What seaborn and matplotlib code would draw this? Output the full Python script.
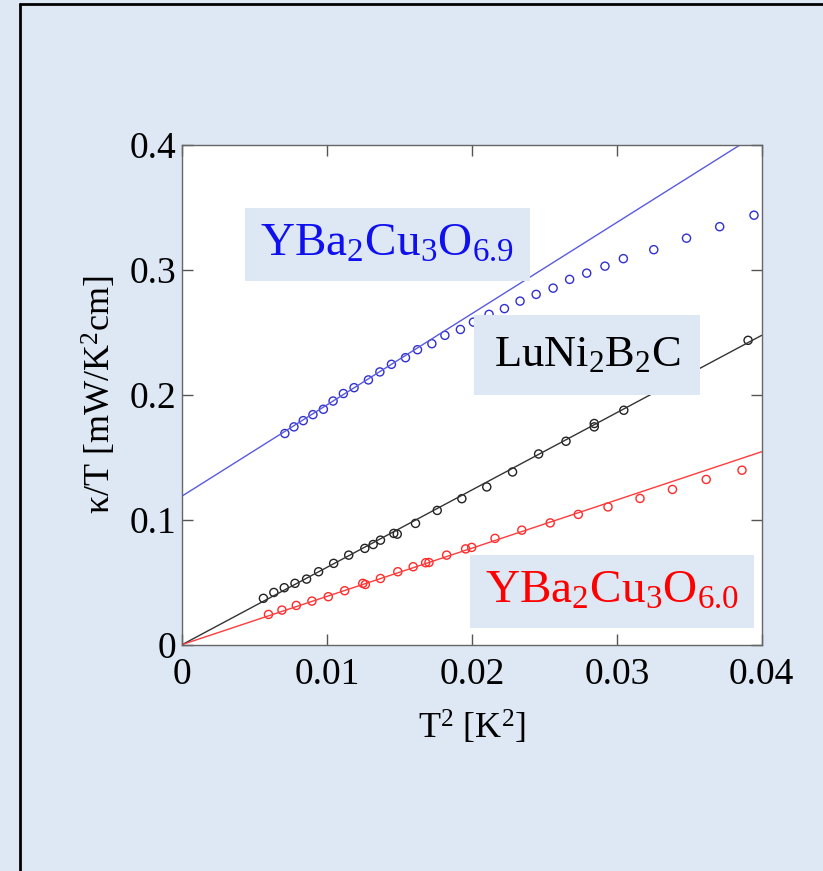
import seaborn as sns
import matplotlib.pyplot as plt
import numpy as np
import pandas as pd
from matplotlib.lines import Line2D

sns.set_theme(style='ticks')
plt.rcParams['font.family'] = ['Liberation Serif', 'DejaVu Serif']
plt.rcParams['mathtext.fontset'] = 'custom'
plt.rcParams['mathtext.rm'] = 'Liberation Serif'
plt.rcParams['mathtext.it'] = 'Liberation Serif:italic'
plt.rcParams['text.color'] = 'black'
plt.rcParams['axes.labelcolor'] = 'black'
plt.rcParams['xtick.labelcolor'] = 'black'
plt.rcParams['ytick.labelcolor'] = 'black'

BG = '#dde8f4'

# YBa2Cu3O6.9 (blue)
t2_y69 = [0.00708, 0.00771, 0.00835, 0.00902, 0.00974, 0.01041, 0.01112, 0.01186,
          0.01285, 0.01364, 0.01444, 0.01541, 0.01624, 0.01723, 0.01813, 0.01920,
          0.02010, 0.02118, 0.02224, 0.02332, 0.02443, 0.02560, 0.02674, 0.02792,
          0.02918, 0.03045, 0.03255, 0.03481, 0.03710, 0.03947]
k_y69 = [0.169, 0.1743, 0.1793, 0.1841, 0.1884, 0.195, 0.201, 0.2057,
         0.2119, 0.2183, 0.2244, 0.2297, 0.2361, 0.2409, 0.2476, 0.2523,
         0.2582, 0.2644, 0.269, 0.275, 0.2804, 0.2854, 0.2924, 0.2974,
         0.303, 0.309, 0.3162, 0.3254, 0.3346, 0.3438]

# LuNi2B2C (black)
t2_lu = [0.0056, 0.00632, 0.00704, 0.00778, 0.00858, 0.00941, 0.01045, 0.01149,
         0.0126, 0.01318, 0.01368, 0.0146, 0.01484, 0.0161, 0.0176, 0.0193,
         0.02102, 0.0228, 0.0246, 0.02649, 0.02844, 0.02844, 0.03048, 0.03906]
k_lu = [0.037, 0.0417, 0.0455, 0.049, 0.0524, 0.0583, 0.065, 0.0716,
        0.077, 0.0801, 0.0836, 0.089, 0.0884, 0.097, 0.1074, 0.1168,
        0.1262, 0.1382, 0.1526, 0.1628, 0.177, 0.1743, 0.1876, 0.2436]

# YBa2Cu3O6.0 (red)
t2_y60 = [0.00595, 0.00688, 0.00787, 0.00895, 0.01008, 0.01121, 0.01246, 0.01264,
          0.01368, 0.01488, 0.01594, 0.0168, 0.01703, 0.01825, 0.01956, 0.01998,
          0.02159, 0.02344, 0.0254, 0.02734, 0.02939, 0.0316, 0.03384, 0.03617, 0.03864]
k_y60 = [0.0241, 0.0276, 0.0313, 0.0348, 0.0383, 0.0431, 0.049, 0.0481,
         0.0529, 0.0583, 0.0623, 0.0655, 0.0657, 0.0716, 0.0766, 0.0778,
         0.085, 0.0916, 0.0974, 0.1042, 0.1102, 0.117, 0.1242, 0.1322, 0.1396]

# linear fits: intercept, slope
fit_a = [0.119, 0.0, 0.0]
fit_b = [7.3, 6.19, 3.86]
fit_x = [0.0, 0.04]

fig = plt.figure(figsize=(8.23, 8.71), dpi=100, facecolor=BG)
ax = fig.add_axes([0.2215, 0.260, 0.704, 0.5735])
ax.set_facecolor('white')

line_cols = ['#5a5ae0', '#333333', '#ff3b3b']
mark_cols = ['#3030d0', '#222222', '#ff2a2a']
sets = [(t2_y69, k_y69), (t2_lu, k_lu), (t2_y60, k_y60)]

for i in range(3):
    fx = np.array(fit_x)
    fdf = pd.DataFrame({'x': fx, 'y': fit_a[i] + fit_b[i] * fx})
    sns.lineplot(data=fdf, x='x', y='y', ax=ax, color=line_cols[i], lw=1.0)
    df = pd.DataFrame({'x': sets[i][0], 'y': sets[i][1]})
    sns.scatterplot(data=df, x='x', y='y', ax=ax, s=34, marker='o',
                    facecolor='none', edgecolor=mark_cols[i], linewidth=1.0)

ax.set_xlim(0, 0.04)
ax.set_ylim(0, 0.4)
ax.set_xticks([0, 0.01, 0.02, 0.03, 0.04])
ax.set_xticklabels(['0', '0.01', '0.02', '0.03', '0.04'])
ax.set_yticks([0, 0.1, 0.2, 0.3, 0.4])
ax.set_yticklabels(['0', '0.1', '0.2', '0.3', '0.4'])
ax.tick_params(direction='in', length=8, width=1, color='#555555',
               top=True, right=True, labelsize=27)
ax.tick_params(axis='x', pad=9)
ax.tick_params(axis='y', pad=4)
for sp in ax.spines.values():
    sp.set_color('#666666')
    sp.set_linewidth(1.0)

ax.set_xlabel(r'T$^2$ [K$^2$]', fontsize=26, labelpad=12)
ax.set_ylabel(r'κ/T [mW/K$^2$cm]', fontsize=26, labelpad=8)

box = dict(boxstyle='square,pad=0.32', facecolor=BG, edgecolor='none')
ax.text(0.01417, 0.3204, r'YBa$_2$Cu$_3$O$_{6.9}$', color='#1010ee', fontsize=34,
        ha='center', va='center', bbox=box, zorder=5)
ax.text(0.02794, 0.2316, r'LuNi$_2$B$_2$C', color='black', fontsize=32,
        ha='center', va='center',
        bbox=dict(boxstyle='square,pad=0.45', facecolor=BG, edgecolor='none'), zorder=5)
ax.text(0.02967, 0.0424, r'YBa$_2$Cu$_3$O$_{6.0}$', color='#ff0000', fontsize=34,
        ha='center', va='center', bbox=box, zorder=5)

# frame on top and left of the figure
fig.add_artist(Line2D([20 / 823, 20 / 823], [0, 1 - 4 / 871], color='black', lw=2.0))
fig.add_artist(Line2D([20 / 823, 1], [1 - 4 / 871, 1 - 4 / 871], color='black', lw=2.0))

fig.savefig('out.png', dpi=100, facecolor=BG)
